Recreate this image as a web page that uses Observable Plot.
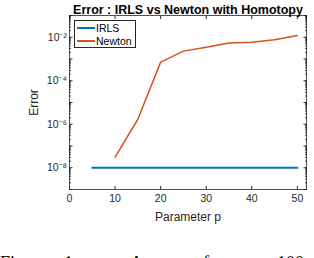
<!DOCTYPE html>
<html><head><meta charset="utf-8">
<script src="https://cdn.jsdelivr.net/npm/d3@7"></script>
<script src="https://cdn.jsdelivr.net/npm/@observablehq/plot@0.6"></script>
<style>
body{margin:0;background:#fff;}
#wrap{position:relative;width:314px;height:258px;overflow:hidden;font-family:"Liberation Sans",Arial,sans-serif;}
#legend{position:absolute;left:74px;top:20px;width:62px;height:28px;border:1px solid #262626;background:#fff;font-size:10.5px;color:#000;box-sizing:border-box;}
.lbl{position:absolute;left:21px;height:12px;line-height:12px;white-space:nowrap;}
.sw{position:absolute;left:2px;width:18px;height:2px;}
.cap{position:absolute;top:253px;font-family:"Liberation Serif","Times New Roman",serif;font-size:18px;white-space:nowrap;color:#000;line-height:20px;}
</style>
</head><body>
<div id="wrap"></div>
<script>
const title = "Error : IRLS vs Newton with Homotopy";
const xLabel = "Parameter p";
const yLabel = "Error";
const seriesNames = ["IRLS", "Newton"];
const seriesColors = ["#0072BD", "#D95319"];
const pIRLS = [5, 10, 15, 20, 25, 30, 35, 40, 45, 50];
const errIRLS = [1e-8, 1e-8, 1e-8, 1e-8, 1e-8, 1e-8, 1e-8, 1e-8, 1e-8, 1e-8];
const pNewton = [10, 15, 20, 25, 30, 35, 40, 45, 50];
const errNewton = [3.1e-8, 1.7e-6, 7.2e-4, 2.3e-3, 3.5e-3, 5.4e-3, 5.9e-3, 7.6e-3, 1.2e-2];
const xTicks = [0, 10, 20, 30, 40, 50];
const yLabelTicks = [1e-8, 1e-6, 1e-4, 1e-2];
const yTickText = ["10\u207B\u2078", "10\u207B\u2076", "10\u207B\u2074", "10\u207B\u00B2"];
const yMajor = [1e-9, 1e-8, 1e-7, 1e-6, 1e-5, 1e-4, 1e-3, 1e-2, 1e-1];
const captionWords = ["Figure", "1:", "Average", "of", "100"];
const captionLeft = [0, 64, 130, 194, 277];

const yMinor = [];
yMajor.slice(0, -1).forEach(d => { for (let k = 2; k <= 9; k++) yMinor.push(d * k); });

const data = [
  ...pIRLS.map((p, i) => ({p, err: errIRLS[i], s: seriesNames[0]})),
  ...pNewton.map((p, i) => ({p, err: errNewton[i], s: seriesNames[1]}))
];
const fmt = d => yTickText[yLabelTicks.indexOf(d)] ?? "";
const ax = "#262626";

const chart = Plot.plot({
  width: 314, height: 258,
  marginLeft: 69, marginRight: 8, marginTop: 15, marginBottom: 69,
  style: {fontFamily: '"Liberation Sans", Arial, sans-serif', fontSize: "10.5px", color: ax, background: "#fff"},
  x: {domain: [0, 52]},
  y: {type: "log", domain: [1e-9, 1e-1]},
  color: {domain: seriesNames, range: seriesColors},
  marks: [
    Plot.frame({stroke: ax, strokeWidth: 0.8}),
    Plot.axisX({ticks: xTicks, tickSize: -3, tickPadding: 8, label: null}),
    Plot.axisX({ticks: [], label: xLabel, labelAnchor: "center", labelArrow: "none", labelOffset: 31, fontSize: 12}),
    Plot.axisX({anchor: "top", ticks: xTicks, tickSize: -3, text: null, label: null}),
    Plot.axisY({ticks: yMajor, tickSize: -3.5, tickFormat: fmt, tickPadding: 6, label: null}),
    Plot.axisY({ticks: [], label: yLabel, labelAnchor: "center", labelArrow: "none", labelOffset: 40, fontSize: 12}),
    Plot.axisY({ticks: yMinor, tickSize: -1.8, text: null, label: null}),
    Plot.axisY({anchor: "right", ticks: yMajor, tickSize: -3.5, text: null, label: null}),
    Plot.axisY({anchor: "right", ticks: yMinor, tickSize: -1.8, text: null, label: null}),
    Plot.line(data.filter(d => d.s === seriesNames[0]), {x: "p", y: "err", stroke: "s", strokeWidth: 2}),
    Plot.line(data.filter(d => d.s === seriesNames[1]), {x: "p", y: "err", stroke: "s", strokeWidth: 1.5}),
    Plot.text([title], {frameAnchor: "top", lineAnchor: "bottom", dy: -2, fontWeight: "bold", fontSize: 12.5, fill: "#000"})
  ]
});
const wrap = document.getElementById("wrap");
wrap.appendChild(chart);

const lg = document.createElement("div");
lg.id = "legend";
seriesNames.forEach((n, i) => {
  const top = 1 + i * 13;
  const sw = document.createElement("div");
  sw.className = "sw";
  sw.style.top = (top + 5) + "px";
  sw.style.background = seriesColors[i];
  lg.appendChild(sw);
  const t = document.createElement("div");
  t.className = "lbl";
  t.style.top = top + "px";
  t.textContent = n;
  lg.appendChild(t);
});
wrap.appendChild(lg);

captionWords.forEach((w, i) => {
  const s = document.createElement("div");
  s.className = "cap";
  s.style.left = captionLeft[i] + "px";
  s.textContent = w;
  wrap.appendChild(s);
});
</script>
</body></html>
